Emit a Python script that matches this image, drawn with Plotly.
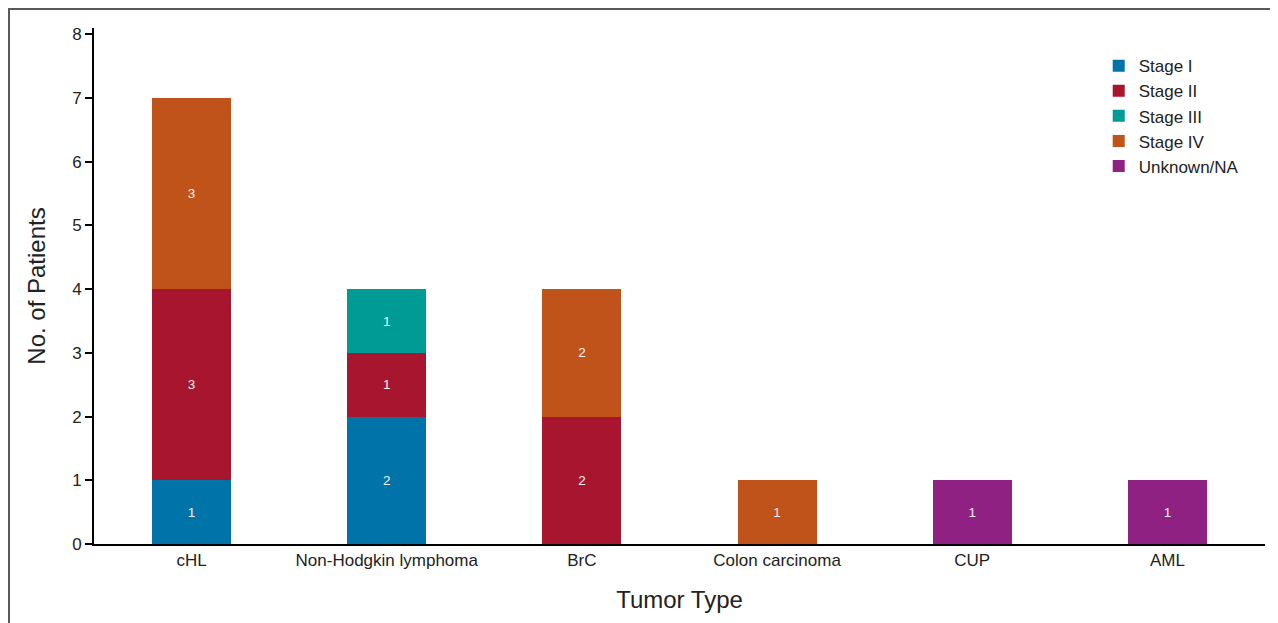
import plotly.graph_objects as go

categories = ["cHL", "Non-Hodgkin lymphoma", "BrC", "Colon carcinoma", "CUP", "AML"]
series_names = ["Stage I", "Stage II", "Stage III", "Stage IV", "Unknown/NA"]
stage_i = [1, 2, None, None, None, None]
stage_ii = [3, 1, 2, None, None, None]
stage_iii = [None, 1, None, None, None, None]
stage_iv = [3, None, 2, 1, None, None]
unknown_na = [None, None, None, None, 1, 1]
y_ticks = [0, 1, 2, 3, 4, 5, 6, 7, 8]

series_values = [stage_i, stage_ii, stage_iii, stage_iv, unknown_na]
colors = ["#0074A8", "#A8152E", "#009B95", "#C0531A", "#8E2181"]

FONT = "Liberation Sans"
fig = go.Figure()
for i, (name, vals, col) in enumerate(zip(series_names, series_values, colors)):
    fig.add_trace(go.Bar(
        x=categories, y=vals, name=name, marker=dict(color=col, line=dict(width=0)),
        width=0.405, text=vals, texttemplate="%{y}", textposition="inside",
        insidetextanchor="middle", textangle=0,
        textfont=dict(color="#f2f2f2", size=13.5, family=FONT),
        legendgroup=name,
    ))

fig.update_layout(
    barmode="stack",
    width=1270, height=615,
    margin=dict(l=86, r=13, t=20, b=79),
    plot_bgcolor="white", paper_bgcolor="white",
    font=dict(family=FONT, color="#222222"),
    uniformtext=dict(minsize=8, mode="show"),
    xaxis=dict(
        showline=True, linecolor="black", linewidth=2, ticks="",
        tickfont=dict(size=17, color="#222222"),
        title=dict(text="Tumor Type", font=dict(size=24, color="#222222"), standoff=22),
        range=[-0.5, 5.5],
    ),
    yaxis=dict(
        range=[0, 8.1], tickvals=y_ticks, showgrid=False, zeroline=False,
        showline=True, linecolor="black", linewidth=2,
        ticks="outside", ticklen=7, tickwidth=1.5, tickcolor="black",
        tickfont=dict(size=17, color="#222222"),
        title=dict(text="No. of Patients", font=dict(size=24, color="#222222"), standoff=20),
    ),
    legend=dict(
        x=0.858, y=0.961, xanchor="left", yanchor="top",
        font=dict(size=17, color="#222222"), itemwidth=30,
        tracegroupgap=0, traceorder="grouped", bgcolor="rgba(0,0,0,0)",
    ),
    shapes=[dict(type="rect", xref="paper", yref="paper",
                 x0=(1 - 86) / 1171, x1=1.2, y0=-0.5, y1=(536 - 1) / 516,
                 line=dict(color="#5a5a5a", width=2), fillcolor="rgba(0,0,0,0)", layer="below")],
)

fig.write_html("out.html")
